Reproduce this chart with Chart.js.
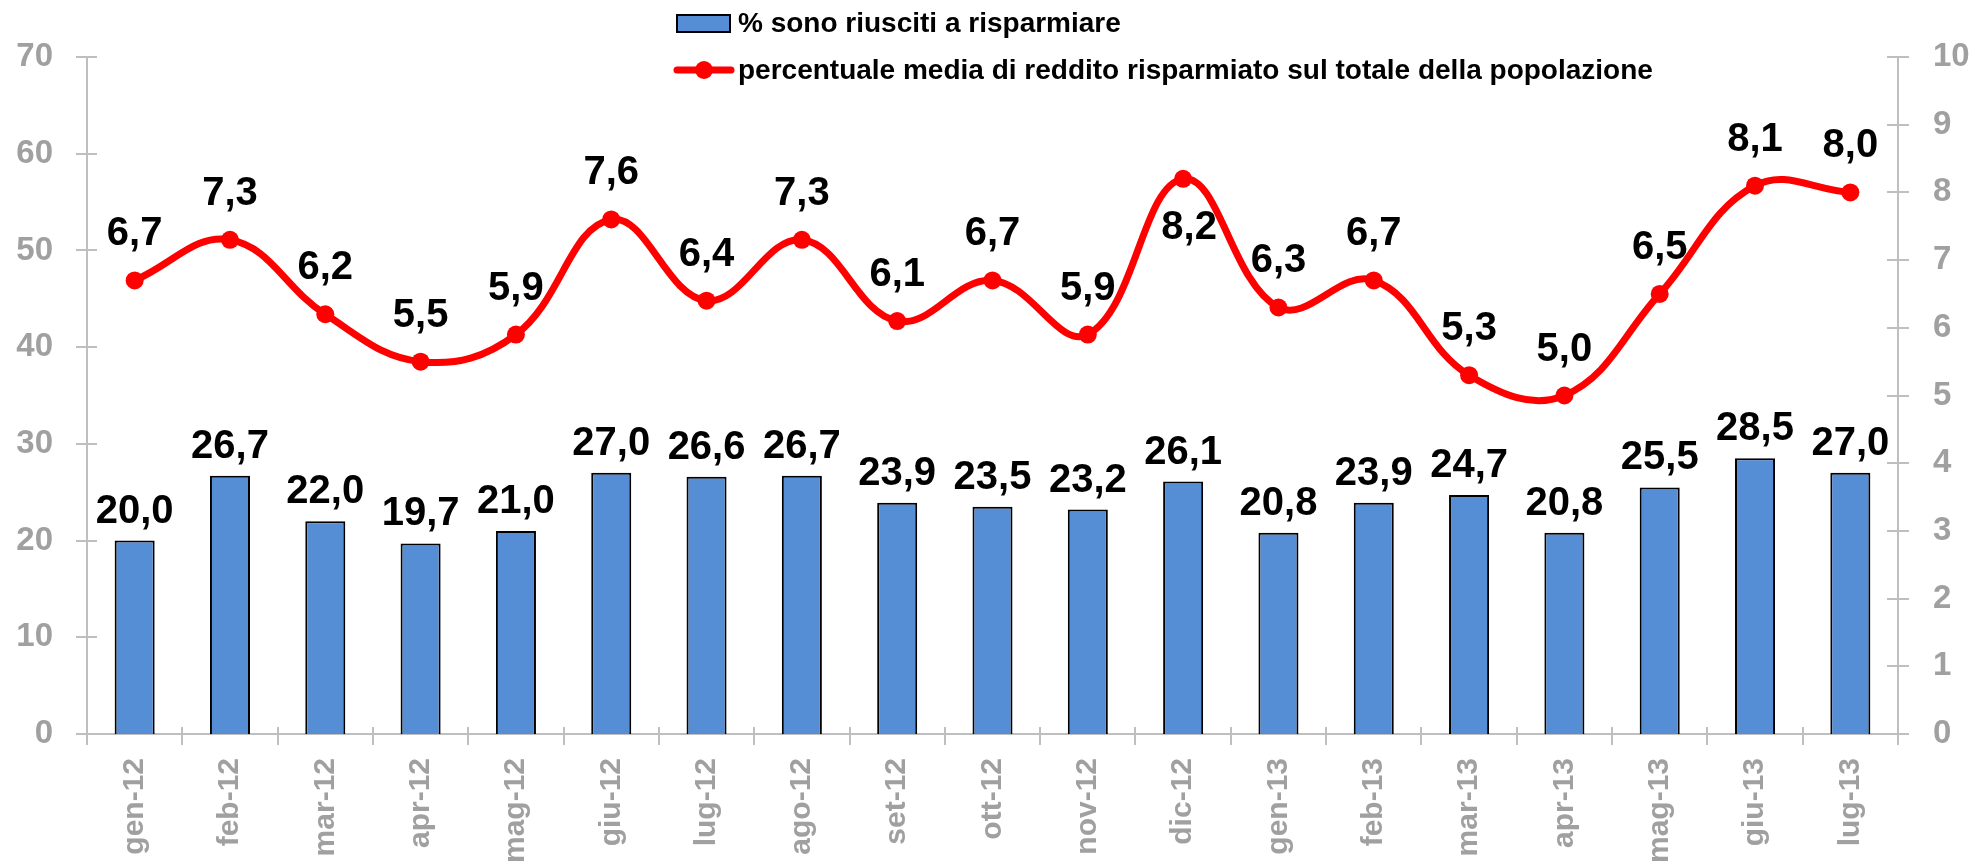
<!DOCTYPE html>
<html>
<head>
<meta charset="utf-8">
<script src="https://cdn.jsdelivr.net/npm/chart.js@4.4.0/dist/chart.umd.min.js"></script>
<style>
html,body{margin:0;padding:0;background:#ffffff;}
canvas{display:block;}
</style>
</head>
<body>
<canvas id="c" width="1975" height="864"></canvas>
<script>
const categories = ['gen-12','feb-12','mar-12','apr-12','mag-12','giu-12','lug-12','ago-12','set-12','ott-12','nov-12','dic-12','gen-13','feb-13','mar-13','apr-13','mag-13','giu-13','lug-13'];
const savedShare = [20.0, 26.7, 22.0, 19.7, 21.0, 27.0, 26.6, 26.7, 23.9, 23.5, 23.2, 26.1, 20.8, 23.9, 24.7, 20.8, 25.5, 28.5, 27.0];
const savedIncome = [6.7, 7.3, 6.2, 5.5, 5.9, 7.6, 6.4, 7.3, 6.1, 6.7, 5.9, 8.2, 6.3, 6.7, 5.3, 5.0, 6.5, 8.1, 8.0];
const leftTicks = [0, 10, 20, 30, 40, 50, 60, 70];
const rightTicks = [0, 1, 2, 3, 4, 5, 6, 7, 8, 9, 10];
const lineLabelPlacement = ['above','above','above','above','above','above','above','above','above','above','above','below','above','above','above','above','above','above','above'];
const barSeriesName = '% sono riusciti a risparmiare';
const lineSeriesName = 'percentuale media di reddito risparmiato sul totale della popolazione';

const FONT = '"Liberation Sans", Arial, Helvetica, sans-serif';
const GRAY_TEXT = '#A0A0A0';
const AXIS_GRAY = '#BFBFBF';
const BAR_BLUE = '#558ED5';
const RED = '#FF0000';

function fmt(v){ return v.toFixed(1).replace('.', ','); }

const deco = {
  id: 'deco',
  beforeDatasetsDraw(chart){
    const ctx = chart.ctx;
    const x = chart.scales.x, y = chart.scales.y, y1 = chart.scales.y1;
    const area = chart.chartArea;
    ctx.save();
    ctx.strokeStyle = AXIS_GRAY;
    ctx.lineWidth = 2;
    ctx.beginPath();
    leftTicks.forEach(v => {
      const py = Math.round(y.getPixelForValue(v));
      ctx.moveTo(area.left - 11, py); ctx.lineTo(area.left + 10, py);
    });
    rightTicks.forEach(v => {
      const py = Math.round(y1.getPixelForValue(v));
      ctx.moveTo(area.right - 11, py); ctx.lineTo(area.right + 11, py);
    });
    const n = categories.length;
    for (let k = 0; k <= n; k++) {
      let px;
      if (k === 0) px = area.left;
      else if (k === n) px = area.right;
      else px = (x.getPixelForValue(k - 1) + x.getPixelForValue(k)) / 2;
      px = Math.round(px);
      ctx.moveTo(px, area.bottom - 7); ctx.lineTo(px, area.bottom + 11);
    }
    ctx.stroke();
    ctx.restore();
  },
  afterDatasetsDraw(chart){
    const ctx = chart.ctx;
    ctx.save();
    ctx.fillStyle = '#000000';
    ctx.font = 'bold 40px ' + FONT;
    ctx.textAlign = 'center';
    ctx.textBaseline = 'alphabetic';
    const barMeta = chart.getDatasetMeta(1);
    barMeta.data.forEach((el, i) => {
      ctx.fillText(fmt(savedShare[i]), el.x, el.y - 18);
    });
    const lineMeta = chart.getDatasetMeta(0);
    lineMeta.data.forEach((el, i) => {
      if (lineLabelPlacement[i] === 'below') {
        ctx.fillText(fmt(savedIncome[i]), el.x + 6, el.y + 60);
      } else {
        ctx.fillText(fmt(savedIncome[i]), el.x, el.y - 35);
      }
    });
    ctx.restore();
  },
  afterDraw(chart){
    const ctx = chart.ctx;
    ctx.save();
    ctx.fillStyle = BAR_BLUE;
    ctx.fillRect(677, 15, 53, 17);
    ctx.strokeStyle = '#000000';
    ctx.lineWidth = 2;
    ctx.strokeRect(677, 15, 53, 17);
    ctx.fillStyle = '#000000';
    ctx.font = 'bold 28px ' + FONT;
    ctx.textAlign = 'left';
    ctx.textBaseline = 'middle';
    ctx.fillText(barSeriesName, 738, 24);
    ctx.strokeStyle = RED;
    ctx.lineWidth = 7;
    ctx.lineCap = 'round';
    ctx.beginPath();
    ctx.moveTo(677, 70); ctx.lineTo(731, 70);
    ctx.stroke();
    ctx.fillStyle = RED;
    ctx.beginPath();
    ctx.arc(704, 70, 9, 0, Math.PI * 2);
    ctx.fill();
    ctx.fillStyle = '#000000';
    ctx.fillText(lineSeriesName, 738, 71);
    ctx.restore();
  }
};

new Chart(document.getElementById('c'), {
  data: {
    labels: categories,
    datasets: [
      {
        type: 'line',
        label: lineSeriesName,
        data: savedIncome,
        yAxisID: 'y1',
        borderColor: RED,
        backgroundColor: RED,
        borderWidth: 7,
        pointRadius: 9,
        pointBackgroundColor: RED,
        pointBorderWidth: 0,
        tension: 0.4,
        order: 0
      },
      {
        type: 'bar',
        label: barSeriesName,
        data: savedShare,
        yAxisID: 'y',
        backgroundColor: BAR_BLUE,
        borderColor: '#000000',
        borderWidth: 2,
        barPercentage: 0.42,
        categoryPercentage: 1,
        order: 1
      }
    ]
  },
  options: {
    responsive: false,
    animation: false,
    layout: { padding: { top: 57, left: 0, right: 0, bottom: 0 } },
    plugins: { legend: { display: false }, tooltip: { enabled: false } },
    scales: {
      x: {
        offset: true,
        grid: { display: false, drawTicks: false },
        border: { display: true, color: AXIS_GRAY, width: 2 },
        ticks: {
          color: GRAY_TEXT,
          font: { family: FONT, size: 30, weight: 'bold' },
          minRotation: 90, maxRotation: 90,
          padding: 24,
          autoSkip: false
        },
        afterFit(s){ s.height = 130; }
      },
      y: {
        position: 'left',
        min: 0, max: 70,
        afterBuildTicks(s){ s.ticks = leftTicks.map(v => ({ value: v })); },
        grid: { display: false, drawTicks: false },
        border: { display: true, color: AXIS_GRAY, width: 2 },
        ticks: {
          color: GRAY_TEXT,
          font: { family: FONT, size: 33, weight: 'bold' },
          padding: 34
        },
        afterFit(s){ s.width = 87; }
      },
      y1: {
        position: 'right',
        min: 0, max: 10,
        afterBuildTicks(s){ s.ticks = rightTicks.map(v => ({ value: v })); },
        grid: { display: false, drawTicks: false },
        border: { display: true, color: AXIS_GRAY, width: 2 },
        ticks: {
          color: GRAY_TEXT,
          font: { family: FONT, size: 33, weight: 'bold' },
          padding: 35
        },
        afterFit(s){ s.width = 77; }
      }
    }
  },
  plugins: [deco]
});
</script>
</body>
</html>
